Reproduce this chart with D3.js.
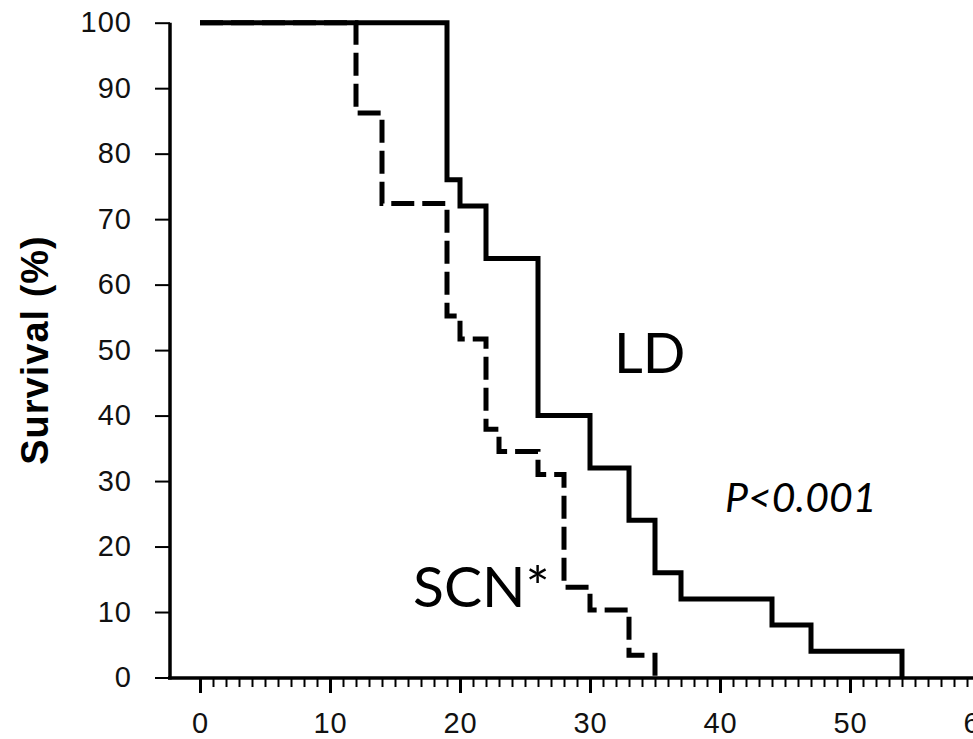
<!DOCTYPE html>
<html>
<head>
<meta charset="utf-8">
<script src="https://cdn.jsdelivr.net/npm/d3@7"></script>
<style>
  html, body { margin: 0; padding: 0; background: #fff; }
  svg { display: block; }
</style>
</head>
<body>
<div id="chart"></div>
<script>
// Kaplan-Meier steps
const ldTimes = [0, 19, 20, 22, 26, 30, 33, 35, 37, 44, 47, 54];
const ldSurvival = [100, 76, 72, 64, 40, 32, 24, 16, 12, 8, 4, 0];
const scnTimes = [0, 12, 14, 19, 20, 22, 23, 26, 28, 30, 33, 35];
const scnSurvival = [100, 86.2, 72.4, 55.2, 51.7, 37.9, 34.5, 31.0, 13.8, 10.3, 3.4, 0];

const yTicks = [0, 10, 20, 30, 40, 50, 60, 70, 80, 90, 100];
const xMajorTicks = [0, 10, 20, 30, 40, 50, 60];
const xMinorTicks = d3.range(0, 60);

const width = 973;
const height = 739;

const svg = d3.select('#chart')
  .append('svg')
  .attr('width', width)
  .attr('height', height);

svg.append('rect').attr('width', width).attr('height', height).attr('fill', '#fff');

const x = d3.scaleLinear().domain([0, 60]).range([200, 980]);
const y = d3.scaleLinear().domain([0, 100]).range([677.5, 22.7]);

const axisY = 678;
const axisX = 170;
const tickFont = '"Liberation Sans", Arial, sans-serif';

// y axis
const yAxis = svg.append('g')
  .attr('transform', `translate(${axisX},0)`)
  .call(d3.axisLeft(y).tickValues(yTicks).tickSize(15).tickPadding(23));
yAxis.select('.domain').remove();
yAxis.selectAll('line').attr('stroke', '#000').attr('stroke-width', 2);
yAxis.selectAll('text')
  .attr('fill', '#111')
  .style('font-family', tickFont)
  .style('font-size', '29px')
  .style('letter-spacing', '1px');

// x axis, minor and major ticks
const xMinor = svg.append('g')
  .attr('transform', `translate(0,${axisY})`)
  .call(d3.axisBottom(x).tickValues(xMinorTicks).tickSize(9).tickFormat(''));
xMinor.select('.domain').remove();
xMinor.selectAll('line').attr('stroke', '#000').attr('stroke-width', 2);

const xMajor = svg.append('g')
  .attr('transform', `translate(0,${axisY})`)
  .call(d3.axisBottom(x).tickValues(xMajorTicks).tickSize(15).tickPadding(19));
xMajor.select('.domain').remove();
xMajor.selectAll('line').attr('stroke', '#000').attr('stroke-width', 3);
xMajor.selectAll('text')
  .attr('fill', '#111')
  .style('font-family', tickFont)
  .style('font-size', '29px')
  .style('letter-spacing', '1px');

// axis lines
svg.append('line')
  .attr('x1', axisX).attr('x2', axisX)
  .attr('y1', y(100)).attr('y2', axisY + 1.5)
  .attr('stroke', '#000').attr('stroke-width', 3.5);
svg.append('line')
  .attr('x1', 168).attr('x2', width)
  .attr('y1', axisY).attr('y2', axisY)
  .attr('stroke', '#000').attr('stroke-width', 3.5);

// survival curves
const step = d3.line()
  .x(d => x(d[0]))
  .y(d => y(d[1]))
  .curve(d3.curveStepAfter);

const scnPoints = scnTimes.map((t, i) => [t, scnSurvival[i]]);
const ldPoints = ldTimes.map((t, i) => [t, ldSurvival[i]]);

svg.append('path')
  .attr('d', step(scnPoints))
  .attr('fill', 'none')
  .attr('stroke', '#000')
  .attr('stroke-width', 5)
  .attr('stroke-dasharray', '23 8')
  .attr('stroke-linejoin', 'miter');

svg.append('path')
  .attr('d', step(ldPoints))
  .attr('fill', 'none')
  .attr('stroke', '#000')
  .attr('stroke-width', 5)
  .attr('stroke-linejoin', 'miter');

// labels
svg.append('text')
  .attr('transform', 'translate(48,350) rotate(-90)')
  .attr('text-anchor', 'middle')
  .style('font-family', tickFont)
  .style('font-weight', 'bold')
  .style('font-size', '38px')
  .style('letter-spacing', '1px')
  .text('Survival (%)');

const labelFont = 'Lato, "Open Sans", sans-serif';
svg.append('text')
  .attr('x', 614).attr('y', 373)
  .style('font-family', labelFont)
  .style('font-size', '56px')
  .text('LD');

svg.append('text')
  .attr('x', 413).attr('y', 607)
  .style('font-family', labelFont)
  .style('font-size', '57px')
  .text('SCN*');

svg.append('text')
  .attr('x', 725).attr('y', 512)
  .style('font-family', labelFont)
  .style('font-style', 'italic')
  .style('font-size', '41px')
  .text('P<0.001');
</script>
</body>
</html>
